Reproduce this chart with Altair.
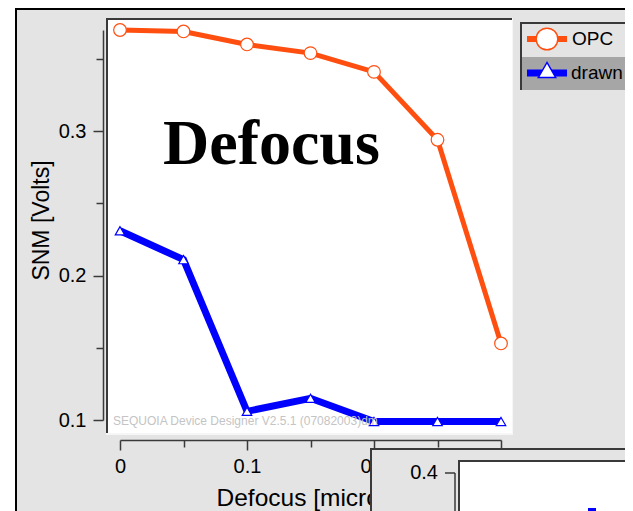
import altair as alt
import pandas as pd

# ---- data ----
defocus = [0, 0.05, 0.1, 0.15, 0.2, 0.25, 0.3]
snm_opc = [0.370, 0.369, 0.360, 0.354, 0.341, 0.294, 0.153]
snm_drawn = [0.231, 0.211, 0.106, 0.115, 0.099, 0.099, 0.099]
series = ["OPC", "drawn"]
x_ticks = [0, 0.05, 0.1, 0.15, 0.2, 0.25, 0.3]
y_ticks = [0.1, 0.15, 0.2, 0.25, 0.3, 0.35]
inset_labels = ["0.4"]
big_label = ["Defocus"]
watermark = ["SEQUOIA Device Designer V2.5.1 (07082003)dm"]

ORANGE = "#ff4f10"
BLUE = "#0000ff"
GRAY = "#e4e4e4"
DARK = "#3a3a3a"
FONT = "Liberation Sans"

W, H = 381, 390
OX, OY = 120, 30  # page position of the plot origin

df_opc = pd.DataFrame({"defocus": defocus, "snm": snm_opc, "series": series[0]})
df_drawn = pd.DataFrame({"defocus": defocus, "snm": snm_drawn, "series": series[1]})

one = alt.Data(values=[{"k": 0}])


def rect(x1, y1, x2, y2, color):
    return alt.Chart(one).mark_rect(color=color).encode(
        x=alt.value(x1 - OX), x2=alt.value(x2 - OX),
        y=alt.value(y1 - OY), y2=alt.value(y2 - OY))


def rule(x1, y1, x2, y2, color, width):
    return alt.Chart(one).mark_rule(color=color, strokeWidth=width).encode(
        x=alt.value(x1 - OX), x2=alt.value(x2 - OX),
        y=alt.value(y1 - OY), y2=alt.value(y2 - OY))


def text(t, px, py, size, align="left", baseline="alphabetic", font=FONT,
         weight="normal", color="black"):
    return alt.Chart(one).mark_text(
        text=t, font=font, fontSize=size, fontWeight=weight, color=color,
        align=align, baseline=baseline).encode(
        x=alt.value(px - OX), y=alt.value(py - OY))


major = "round(datum.value*100) % 10 == 0"
lab = major + " ? format(datum.value, '~g') : ''"

xaxis = alt.Axis(
    values=x_ticks, labelExpr=lab, offset=20,
    tickSize={"condition": {"test": major, "value": 10}, "value": 7},
    labelFont=FONT, labelFontSize=20, labelColor="black", labelPadding=6,
    labelFlush=False, labelOverlap=False,
    domainColor=DARK, domainWidth=1.5, tickColor=DARK, tickWidth=1.5, grid=False,
    title="Defocus [microns]", titleFont=FONT, titleFontSize=24.5,
    titleFontWeight="normal", titleColor="black",
    titleX=96, titleY=65, titleAlign="left", titleBaseline="alphabetic")

yaxis = alt.Axis(
    values=y_ticks, labelExpr=lab, offset=17,
    tickSize={"condition": {"test": major, "value": 10}, "value": 7},
    labelFont=FONT, labelFontSize=20, labelColor="black", labelPadding=7,
    labelOverlap=False, labelFlush=False,
    domainColor=DARK, domainWidth=1.5, tickColor=DARK, tickWidth=1.5, grid=False,
    title="SNM [Volts]", titleFont=FONT, titleFontSize=23,
    titleFontWeight="normal", titleColor="black",
    titleX=-55, titleY=190, titleAlign="center", titleBaseline="alphabetic")

xenc = alt.X("defocus:Q", scale=alt.Scale(domain=[0, 0.3], nice=False, zero=False), axis=xaxis)
yenc = alt.Y("snm:Q", scale=alt.Scale(domain=[0.1, 0.37], nice=False, zero=False), axis=yaxis)

opc_line = alt.Chart(df_opc).mark_line(color=ORANGE, strokeWidth=5).encode(x=xenc, y=yenc)
opc_pts = alt.Chart(df_opc).mark_point(
    shape="circle", size=160, filled=True, fill="white", stroke=ORANGE,
    strokeWidth=1.2, opacity=1).encode(x=xenc, y=yenc)
drawn_line = alt.Chart(df_drawn).mark_line(color=BLUE, strokeWidth=7).encode(x=xenc, y=yenc)
drawn_pts = alt.Chart(df_drawn).mark_point(
    shape="triangle-up", size=90, filled=True, fill="white", stroke=BLUE,
    strokeWidth=1.2, opacity=1).encode(x=xenc, y=yenc)

layers = [
    # outer frame
    rect(8, 8, 15, 520, "white"),
    rect(15, 8, 17, 520, "black"),
    rect(15, 8, 640, 10, "black"),
    # plot area panel
    rect(107, 18, 512, 434, "white"),
    rect(106, 18, 512, 20, DARK),
    rect(106, 18, 108, 434, DARK),
    rect(512, 18, 513, 434, "#f6f6f6"),
    rect(106, 433, 513, 435, "#f6f6f6"),
    text(big_label[0], 163, 164, 64, font="Liberation Serif", weight="bold"),
    opc_line, drawn_line, opc_pts, drawn_pts,
    text(watermark[0], 113, 425, 12, color="#c4c4c4"),
    # legend
    rect(520, 57, 640, 90, "#a6a6a6"),
    rect(520, 22, 640, 24, DARK),
    rect(520, 22, 522, 90, DARK),
    rule(527, 39, 567, 39, ORANGE, 6),
    alt.Chart(one).mark_point(shape="circle", size=470, filled=True, fill="white",
                              stroke=ORANGE, strokeWidth=1.5, opacity=1).encode(
        x=alt.value(547 - OX), y=alt.value(39 - OY)),
    text(series[0], 572, 39, 19, baseline="middle"),
    rule(527, 73, 567, 73, BLUE, 7),
    alt.Chart(one).mark_point(shape="triangle-up", size=300, filled=True, fill="white",
                              stroke=BLUE, strokeWidth=1.5, opacity=1).encode(
        x=alt.value(547 - OX), y=alt.value(70 - OY)),
    text(series[1], 571, 73, 19, baseline="middle"),
    # second (inset) panel at bottom right
    rect(371, 448, 640, 520, GRAY),
    rect(370, 448, 640, 450, DARK),
    rect(370, 448, 372, 520, DARK),
    text(inset_labels[0], 438, 473, 20, align="right", baseline="middle"),
    rule(445, 473, 455, 473, DARK, 1.5),
    rule(455, 473, 455, 520, DARK, 1.5),
    rect(459, 460, 640, 520, "white"),
    rect(458, 460, 640, 462, DARK),
    rect(458, 460, 460, 520, DARK),
    rect(588, 508, 596, 512, BLUE),
]

chart = alt.layer(*layers).properties(
    width=W, height=H,
    autosize=alt.AutoSizeParams(type="none"),
    padding={"left": 112, "top": 22, "right": 124, "bottom": 91},
).configure(background=GRAY).configure_view(stroke=None)

chart.save("out.html", embed_options={"renderer": "svg", "actions": False})
